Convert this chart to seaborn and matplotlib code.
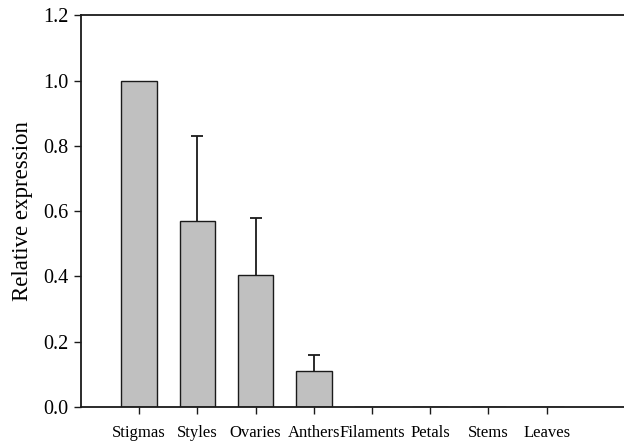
import matplotlib
matplotlib.use("Agg")
import matplotlib.pyplot as plt
import seaborn as sns
import numpy as np
import pandas as pd

tissues = ["Stigmas", "Styles", "Ovaries", "Anthers", "Filaments", "Petals", "Stems", "Leaves"]
expression = [1.0, 0.57, 0.405, 0.11, 0.0, 0.0, 0.0, 0.0]
error_up = [0.0, 0.26, 0.175, 0.05, 0.0, 0.0, 0.0, 0.0]
yticks = [0.0, 0.2, 0.4, 0.6, 0.8, 1.0, 1.2]

sns.set_theme(style="ticks")
plt.rcParams['font.family'] = ['Liberation Serif', 'DejaVu Serif']
plt.rcParams['text.color'] = 'black'
plt.rcParams['axes.labelcolor'] = 'black'
plt.rcParams['xtick.color'] = 'black'
plt.rcParams['ytick.color'] = 'black'

df = pd.DataFrame({"tissue": tissues, "expr": expression})

fig = plt.figure(figsize=(6.24, 4.41), dpi=100)
ax = fig.add_axes([0.1298, 0.0771, 0.8702, 0.8878])

sns.barplot(data=df, x="tissue", y="expr", color="#c0c0c0", edgecolor="#1a1a1a",
            linewidth=1.0, width=0.61, saturation=1, errorbar=None, ax=ax)

pos = np.arange(len(tissues))
mask = np.array(error_up) > 0
eb = ax.errorbar(pos[mask], np.array(expression)[mask],
                 yerr=[np.zeros(mask.sum()), np.array(error_up)[mask]],
                 fmt="none", ecolor="#1a1a1a", elinewidth=1.3, capsize=4.3, capthick=1.3)
# hide the lower caps (only upward error bars in the reference)
caps = eb[1]
if len(caps) == 2:
    caps[0].set_visible(False)

ax.set_xlim(-1.0, 8.33)
ax.set_ylim(0, 1.2)
ax.set_yticks(yticks)
ax.set_yticklabels([f"{v:.1f}" for v in yticks], fontsize=14.5)
ax.tick_params(axis="x", labelsize=12, length=5, width=1.0, color="#1a1a1a", pad=8)
ax.tick_params(axis="y", length=5, width=1.0, color="#1a1a1a", pad=4)
ax.set_xlabel("")
ax.set_ylabel("Relative expression", fontsize=16.5, labelpad=7)

for side in ["left", "bottom", "top"]:
    ax.spines[side].set_visible(True)
    ax.spines[side].set_linewidth(1.3)
    ax.spines[side].set_color("#1a1a1a")
ax.spines["right"].set_visible(False)

fig.savefig("out.png", dpi=100)
